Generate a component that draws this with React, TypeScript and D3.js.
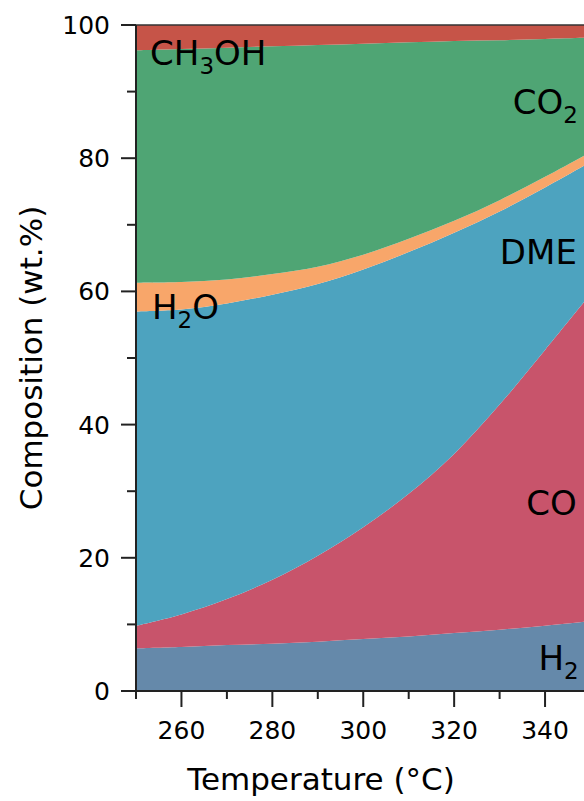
import React from 'react';
import * as d3 from 'd3';

// temperature grid (°C)
const temps = [250, 260, 270, 280, 290, 300, 310, 320, 330, 340, 350];

// composition, wt.%
const h2 = [6.4, 6.6, 6.9, 7.1, 7.4, 7.8, 8.2, 8.7, 9.2, 9.8, 10.5];
const co = [3.4, 4.9, 6.9, 9.6, 12.9, 16.8, 21.4, 26.9, 33.8, 41.4, 49.1];
const dme = [47.2, 45.8, 44.4, 42.8, 40.8, 38.7, 36.3, 33.2, 29.0, 24.4, 19.8];
const h2o = [4.3, 4.1, 3.6, 3.1, 2.6, 2.2, 2.0, 1.8, 1.7, 1.6, 1.5];
const co2 = [34.9, 35.0, 34.8, 34.2, 33.3, 31.7, 29.5, 27.0, 24.0, 20.7, 17.2];
const ch3oh = [3.8, 3.6, 3.4, 3.2, 3.0, 2.8, 2.6, 2.4, 2.3, 2.1, 1.9];

const seriesKeys = ['H2', 'CO', 'DME', 'H2O', 'CO2', 'CH3OH'];
const seriesColors = ['#6589aa', '#c8546b', '#4da3bf', '#f8a66a', '#4fa574', '#c65448'];

const xTicks = [260, 280, 300, 320, 340];
const xMinorTicks = [250, 270, 290, 310, 330, 350];
const yTicks = [0, 20, 40, 60, 80, 100];
const yMinorTicks = [10, 30, 50, 70, 90];

// label anchors: [main, sub, rest, temp, value, anchor]
const labels: [string, string, string, number, number, string][] = [
  ['CH', '3', 'OH', 253.1, 94.0, 'start'],
  ['CO', '2', '', 332.9, 86.6, 'start'],
  ['DME', '', '', 347.0, 64.1, 'end'],
  ['H', '2', 'O', 253.5, 55.9, 'start'],
  ['CO', '', '', 347.0, 26.4, 'end'],
  ['H', '2', '', 347.4, 3.2, 'end'],
];

const W = 584;
const H = 801;
const FONT = '"DejaVu Sans", Verdana, sans-serif';

export default function App() {
  const x = d3.scaleLinear().domain([250, 350]).range([136, 590.5]);
  const y = d3.scaleLinear().domain([0, 100]).range([691, 25]);

  const rows = temps.map((t, i) => ({
    t,
    H2: h2[i],
    CO: co[i],
    DME: dme[i],
    H2O: h2o[i],
    CO2: co2[i],
    CH3OH: ch3oh[i],
  }));
  const stacked = d3.stack<any>().keys(seriesKeys)(rows);

  const area = d3
    .area<any>()
    .x((d) => x(d.data.t))
    .y0((d) => y(d[0]))
    .y1((d) => y(d[1]))
    .curve(d3.curveCatmullRom.alpha(0.5));

  const axisColor = '#222';

  return (
    <svg
      width={W}
      height={H}
      style={{ position: 'absolute', left: 0, top: 0, background: '#fff' }}
      fontFamily={FONT}
    >
      {stacked.map((s, i) => (
        <path key={s.key} d={area(s) || ''} fill={seriesColors[i]} />
      ))}

      {/* frame */}
      <line x1={x(250)} x2={W} y1={y(100)} y2={y(100)} stroke="#333" strokeWidth={1.5} />
      <line x1={x(250)} x2={x(250)} y1={y(100)} y2={y(0)} stroke={axisColor} strokeWidth={2} />
      <line x1={x(250)} x2={W} y1={y(0)} y2={y(0)} stroke={axisColor} strokeWidth={2} />

      {/* y ticks */}
      {yTicks.map((v) => (
        <g key={'y' + v}>
          <line x1={x(250) - 15} x2={x(250)} y1={y(v)} y2={y(v)} stroke={axisColor} strokeWidth={2} />
          <text x={110} y={y(v) + 9} textAnchor="end" fontSize={25} fill="#000">
            {v}
          </text>
        </g>
      ))}
      {yMinorTicks.map((v) => (
        <line key={'ym' + v} x1={x(250) - 9} x2={x(250)} y1={y(v)} y2={y(v)} stroke={axisColor} strokeWidth={2} />
      ))}

      {/* x ticks */}
      {xTicks.map((v) => (
        <g key={'x' + v}>
          <line x1={x(v)} x2={x(v)} y1={y(0)} y2={y(0) + 16} stroke={axisColor} strokeWidth={2} />
          <text x={x(v)} y={739} textAnchor="middle" fontSize={25} fill="#000">
            {v}
          </text>
        </g>
      ))}
      {xMinorTicks.map((v) => (
        <line key={'xm' + v} x1={x(v)} x2={x(v)} y1={y(0)} y2={y(0) + 8} stroke={axisColor} strokeWidth={2} />
      ))}

      {/* axis titles */}
      <text x={321} y={790} textAnchor="middle" fontSize={31} fill="#000">
        Temperature (°C)
      </text>
      <text
        transform={`translate(42,${(y(0) + y(100)) / 2}) rotate(-90)`}
        textAnchor="middle"
        fontSize={31}
        fill="#000"
      >
        Composition (wt.%)
      </text>

      {/* component labels */}
      {labels.map(([main, sub, rest, t, v, anchor], i) => (
        <text key={'l' + i} x={x(t)} y={y(v)} fontSize={34} textAnchor={anchor} fill="#000">
          <tspan>{main}</tspan>
          {sub && (
            <tspan fontSize={23} dy={9}>
              {sub}
            </tspan>
          )}
          {rest && <tspan dy={-9}>{rest}</tspan>}
        </text>
      ))}
    </svg>
  );
}
